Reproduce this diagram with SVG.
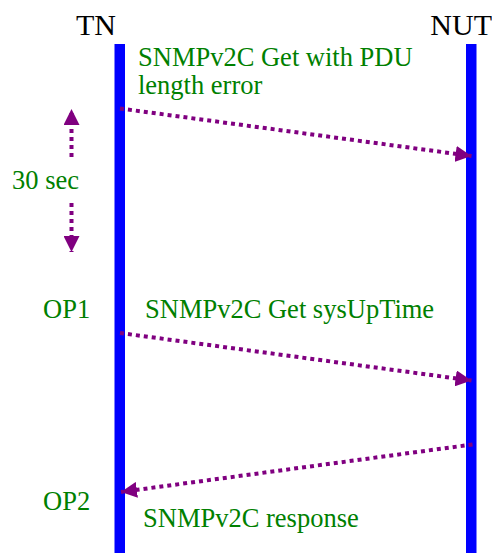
<svg xmlns="http://www.w3.org/2000/svg" width="492" height="553" viewBox="0 0 492 553">
<style>
.life{fill:#0000ff;}
text{font-family:'Liberation Serif','Times New Roman',serif;}
.hdr{font-size:30px;fill:#000;}
.lbl{font-size:26.5px;fill:#008000;}
.msg{stroke:#800080;stroke-width:4;stroke-dasharray:4 4;fill:none;marker-end:url(#ah);}
</style>
<defs>
<marker id="ah" markerUnits="userSpaceOnUse" markerWidth="16" markerHeight="16" refX="16" refY="8" orient="auto">
<path d="M0,0 L16,8 L0,16 z" fill="#800080"/>
</marker>
</defs>
<rect width="492" height="553" fill="#fff"/>
<g id="TN">
<rect class="life" x="114.5" y="44" width="10.5" height="509"/>
<text class="hdr" x="116" y="35" text-anchor="end">TN</text>
</g>
<g id="NUT">
<rect class="life" x="466" y="44" width="10.5" height="509"/>
<text class="hdr" x="492" y="35" text-anchor="end">NUT</text>
</g>
<g id="labels">
<text class="lbl" x="138" y="66">SNMPv2C Get with PDU</text>
<text class="lbl" x="138" y="94">length error</text>
<text class="lbl" x="12" y="189">30 sec</text>
<text class="lbl" x="43" y="318">OP1</text>
<text class="lbl" x="145" y="318">SNMPv2C Get sysUpTime</text>
<text class="lbl" x="43" y="510">OP2</text>
<text class="lbl" x="143" y="527">SNMPv2C response</text>
</g>
<g id="connectors">
<line class="msg" x1="120" y1="108.5" x2="471.5" y2="156"/>
<line class="msg" x1="120" y1="333" x2="471.5" y2="380.5"/>
<line class="msg" x1="472.5" y1="444.5" x2="121" y2="492"/>
<line class="msg" x1="71.5" y1="157" x2="71.5" y2="109"/>
<line class="msg" x1="71.5" y1="203" x2="71.5" y2="252"/>
</g>
</svg>
